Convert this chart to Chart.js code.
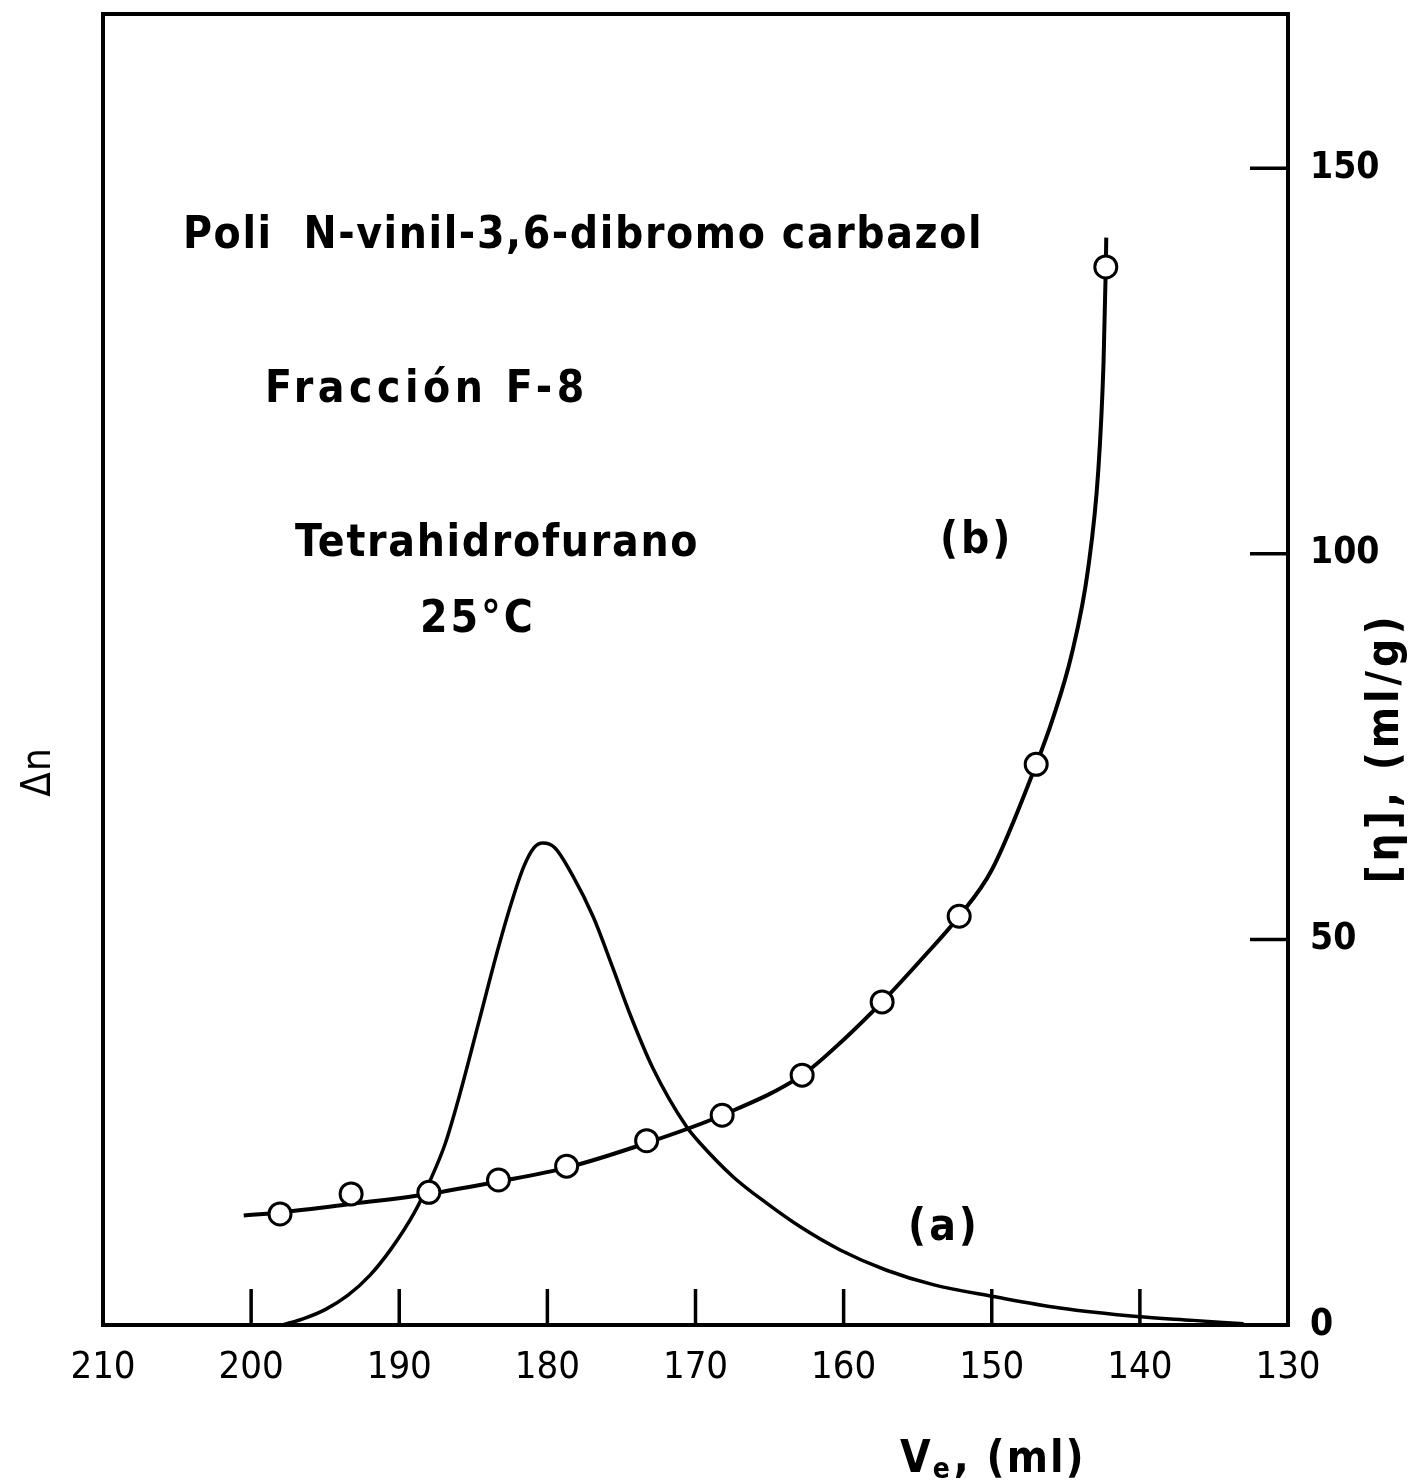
<!DOCTYPE html>
<html lang="es">
  <head>
    <meta charset="UTF-8" />
    <title>Poli N-vinil-3,6-dibromo carbazol</title>
    <script src="https://cdn.jsdelivr.net/npm/chart.js"></script>
    <style>
      body { margin: 0; background: #fff; }
    </style>
  </head>
  <body>
    <div style="width: 1415px; height: 1481px">
      <canvas id="myChart" width="1415" height="1481"></canvas>
    </div>
  </body>
  <script>
    // eje x (Ve, ml) invertido, eje derecho [η] (ml/g)
    const xTicks = [210, 200, 190, 180, 170, 160, 150, 140, 130];
    const etaTicks = [0, 50, 100, 150];

    // curva (a): Δn, unidades arbitrarias
    const aVol = [197.9, 196.5, 195, 193.5, 192.0, 190.5, 189.0, 187.9, 186.9, 185.9, 184.6, 183.4, 182.5, 181.6,
      180.9, 180.3, 179.5, 178.3, 176.9, 175.6, 174.4, 172.9, 170.6, 169.7, 167.45, 165.2, 162.9, 160.2,
      157.1, 153.9, 149.9, 145.4, 140.2, 136.4, 133];
    const aDn = [0, 0.8, 2.0, 3.8, 6.4, 10.0, 14.5, 18.8, 23.5, 30.0, 39.5, 48.3, 54.3, 59.4,
      61.9, 62.5, 61.9, 58.3, 52.9, 46.4, 40.2, 33.4, 25.7, 23.6, 19.2, 15.8, 12.7, 9.7,
      7.1, 5.2, 3.7, 2.2, 1.1, 0.6, 0.15];

    // curva (b): [η] ajustada
    const bVol = [200.5, 198.05, 193.25, 188.0, 183.3, 178.7, 173.3, 168.2, 162.8, 160.0, 157.4, 154.8,
      152.2, 150, 147.0, 145.9, 144.6, 143.5, 142.8, 142.45, 142.3, 142.27];
    const bEta = [14.2, 14.6, 15.7, 17.0, 18.6, 20.4, 23.6, 27.2, 32.4, 37.0, 41.9, 47.3,
      53.0, 59.0, 72.7, 78.5, 87, 98, 111, 125, 137.2, 141];

    // puntos experimentales [η]
    const pVol = [198.05, 193.25, 188.0, 183.3, 178.7, 173.3, 168.2, 162.8, 157.4, 152.2, 147.0, 142.3];
    const pEta = [14.4, 17.0, 17.2, 18.8, 20.6, 23.9, 27.2, 32.4, 41.9, 53.0, 72.7, 137.2];

    const FONT = '"DejaVu Sans Condensed", "Liberation Sans Narrow", "DejaVu Sans", sans-serif';

    // textos dentro del gráfico (posición en unidades de datos)
    const notes = [
      { text: "Poli  N-vinil-3,6-dibromo carbazol", v: 204.6, y: 139.6, sp: 1.6 },
      { text: "Fracción F-8", v: 199.06, y: 119.7, sp: 4.5 },
      { text: "Tetrahidrofurano", v: 197.04, y: 99.7, sp: 1.7 },
      { text: "25°C", v: 188.6, y: 89.8, sp: 3 },
      { text: "(b)", v: 153.5, y: 100.1, sp: 3 },
      { text: "(a)", v: 155.65, y: 11.0, sp: 3 },
    ];

    const toXY = (xs, ys) => xs.map((v, i) => ({ x: v, y: ys[i] }));

    const frame = {
      id: "frame",
      beforeDraw(chart) {
        const ctx = chart.ctx;
        ctx.save();
        ctx.fillStyle = "#fff";
        ctx.fillRect(0, 0, chart.width, chart.height);
        ctx.restore();
      },
      afterDraw(chart) {
        const { ctx, chartArea: a, scales } = chart;
        const sx = scales.x, sy = scales.y;
        ctx.save();
        ctx.strokeStyle = "#000";
        ctx.fillStyle = "#000";
        ctx.lineWidth = 4;
        ctx.strokeRect(a.left, a.top, a.right - a.left, a.bottom - a.top);

        // marcas hacia dentro
        ctx.lineWidth = 3.5;
        ctx.beginPath();
        xTicks.slice(1, -1).forEach((v) => {
          const px = sx.getPixelForValue(v);
          ctx.moveTo(px, a.bottom);
          ctx.lineTo(px, a.bottom - 36);
        });
        etaTicks.slice(1).forEach((v) => {
          const py = sy.getPixelForValue(v);
          ctx.moveTo(a.right, py);
          ctx.lineTo(a.right - 38, py);
        });
        ctx.stroke();

        // anotaciones
        ctx.font = "bold 44px " + FONT;
        ctx.textAlign = "left";
        ctx.textBaseline = "alphabetic";
        notes.forEach((n) => {
          ctx.letterSpacing = n.sp + "px";
          ctx.fillText(n.text, sx.getPixelForValue(n.v), sy.getPixelForValue(n.y));
        });

        // título eje x: Ve, (ml)
        ctx.letterSpacing = "2px";
        let x0 = 900, yb = 1472;
        ctx.font = "bold 44px " + FONT;
        ctx.fillText("V", x0, yb);
        x0 += ctx.measureText("V").width;
        ctx.font = "bold 28px " + FONT;
        ctx.fillText("e", x0, yb + 6);
        x0 += ctx.measureText("e").width + 2;
        ctx.font = "bold 44px " + FONT;
        ctx.fillText(", (ml)", x0, yb);

        // título eje derecho
        ctx.save();
        ctx.translate(1387, 748);
        ctx.rotate(-Math.PI / 2);
        ctx.textAlign = "center";
        ctx.textBaseline = "middle";
        ctx.letterSpacing = "4px";
        ctx.font = "bold 44px " + FONT;
        ctx.fillText("[η], (ml/g)", 0, 0);
        ctx.restore();

        // título eje izquierdo
        ctx.save();
        ctx.translate(40, 772);
        ctx.rotate(-Math.PI / 2);
        ctx.textAlign = "center";
        ctx.textBaseline = "middle";
        ctx.letterSpacing = "1px";
        ctx.font = "40px " + FONT;
        ctx.fillText("Δn", 0, 0);
        ctx.restore();

        ctx.restore();
      },
    };

    const noPad = (s) => {
      s.paddingTop = 0;
      s.paddingBottom = 0;
      s.paddingLeft = 0;
      s.paddingRight = 0;
    };

    const ctx = document.querySelector("#myChart");

    const ejCt = new Chart(ctx, {
      type: "line",
      data: {
        datasets: [
          {
            label: "[η] exp.",
            data: toXY(pVol, pEta),
            yAxisID: "y",
            showLine: false,
            pointRadius: 11,
            pointBorderWidth: 3,
            pointBackgroundColor: "#fff",
            pointBorderColor: "#000",
            order: 0,
          },
          {
            label: "(b)",
            data: toXY(bVol, bEta),
            yAxisID: "y",
            borderColor: "#000",
            borderWidth: 4,
            pointRadius: 0,
            cubicInterpolationMode: "monotone",
            order: 1,
          },
          {
            label: "(a)",
            data: toXY(aVol, aDn),
            yAxisID: "yA",
            borderColor: "#000",
            borderWidth: 3.5,
            pointRadius: 0,
            cubicInterpolationMode: "monotone",
            order: 2,
          },
        ],
      },
      options: {
        responsive: false,
        animation: false,
        layout: { padding: { top: 14, left: 103 } },
        plugins: { legend: { display: false }, tooltip: { enabled: false } },
        scales: {
          x: {
            type: "linear",
            reverse: true,
            min: 130,
            max: 210,
            afterBuildTicks: (s) => { s.ticks = xTicks.map((v) => ({ value: v })); },
            afterFit: (s) => { s.height = 156; noPad(s); },
            grid: { display: false, drawTicks: false },
            border: { display: false },
            ticks: {
              color: "#000",
              font: { family: FONT, size: 38 },
              padding: 20,
              maxRotation: 0,
              autoSkip: false,
            },
          },
          y: {
            position: "right",
            min: 0,
            max: 170,
            afterBuildTicks: (s) => { s.ticks = etaTicks.map((v) => ({ value: v })); },
            afterFit: (s) => { s.width = 127; noPad(s); },
            grid: { display: false, drawTicks: false },
            border: { display: false },
            ticks: {
              color: "#000",
              font: { family: FONT, size: 37, weight: "bold" },
              padding: 22,
            },
          },
          yA: { display: false, min: 0, max: 170 },
        },
      },
      plugins: [frame],
    });
  </script>
</html>
